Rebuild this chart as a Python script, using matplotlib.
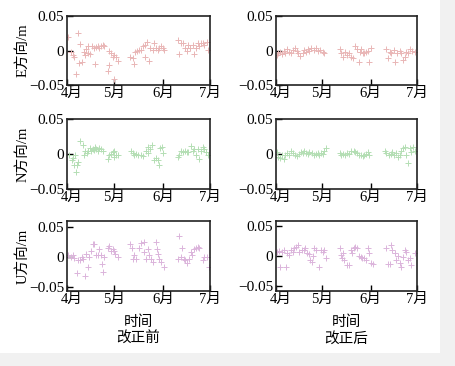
import matplotlib
matplotlib.use("Agg")
import matplotlib.pyplot as plt
from matplotlib.patches import Rectangle
import matplotlib.transforms as mtransforms

plt.rcParams['font.family'] = ['Liberation Serif', 'Noto Sans CJK SC']
plt.rcParams['axes.unicode_minus'] = True

# days since 1 April
month_ticks = [0, 30, 61, 91]
month_labels = ["4月", "5月", "6月", "7月"]
y_ticks = [-0.05, 0, 0.05]
y_labels = ["\u22120.05", "0", "0.05"]
row_labels = ["E方向/m", "N方向/m", "U方向/m"]
col_titles = ["时间\n改正前", "时间\n改正后"]

# ---- E before
e_before_day = [0.8, 6.8, 2.5, 3.6, 4.2, 8.5, 7.8, 5.7, 9.3, 10.6, 11.5, 12.1, 13.2, 13.6, 14.8, 15.7, 17.0,
                17.8, 18.7, 19.5, 20.6, 21.6, 22.7, 23.8, 27.0, 28.0, 29.0, 30.1, 31.2, 32.2, 27.0, 25.9, 30.0,
                40.3, 41.8, 42.4, 43.3, 44.5, 46.0, 47.1, 48.6, 49.7, 50.7, 49.8, 52.4, 53.0, 54.5, 55.6, 56.6,
                57.7, 58.7, 59.8, 60.9, 62.0, 70.4, 71.5, 72.5, 73.6, 75.1, 76.1, 77.2, 78.5, 80.0, 81.0, 82.0,
                83.1, 84.2, 85.3, 86.4, 87.4, 89.1, 90.0]
e_before_val = [0.020, 0.026, -0.0015, -0.006, -0.009, 0.0096, -0.018, -0.034, -0.016, -0.0015, -0.006, 0.0024,
                0.006, -0.003, -0.005, 0.0067, 0.0034, -0.019, 0.005, 0.0067, 0.0043, 0.006, 0.008, 0.0067,
                -0.0005, -0.004, -0.009, -0.006, -0.009, -0.015, -0.021, -0.029, -0.041, -0.009, -0.011, -0.020,
                -0.0024, -0.0005, 0.001, 0.001, 0.006, 0.008, 0.013, -0.009, -0.015, 0.0034, 0.001, 0.0115,
                0.0034, 0.001, 0.0034, 0.0067, 0.0034, 0.001, 0.0154, -0.005, 0.0115, 0.0106, 0.0043, -0.0005,
                0.008, 0.0034, 0.008, -0.005, 0.0034, 0.0106, 0.0067, 0.0106, 0.0115, 0.008, 0.013, 0.001]

# ---- E after
e_after_day = [0.6, 1.5, 2.8, 3.7, 5.0, 5.8, 7.1, 8.6, 9.7, 10.8, 12.3, 13.6, 14.4, 15.7, 17.3, 18.3, 19.4, 20.5,
               21.6, 22.6, 24.4, 25.9, 27.0, 28.7, 30.2, 31.3, 41.0, 42.0, 43.1, 44.6, 45.9, 47.4, 48.5, 49.6,
               51.1, 52.4, 53.3, 53.9, 55.0, 56.1, 57.1, 58.2, 59.3, 59.7, 61.0, 71.2, 72.3, 73.3, 74.4, 76.1,
               77.0, 78.3, 79.8, 80.9, 81.9, 83.0, 84.1, 85.2, 86.3, 87.8, 89.9]
e_after_val = [-0.0065, -0.003, -0.0015, -0.005, 0.0, -0.003, 0.002, -0.0015, -0.004, 0.001, 0.003, 0.0, -0.003,
               -0.008, -0.003, 0.001, -0.0015, 0.002, 0.0, 0.003, 0.001, 0.0035, -0.0005, 0.001, -0.0015, -0.003,
               0.002, -0.003, -0.009, -0.0015, -0.0065, -0.003, -0.009, -0.0115, 0.006, 0.002, -0.0165, -0.0015,
               0.002, -0.003, -0.004, -0.0015, -0.0005, -0.0165, 0.0035, 0.002, -0.0105, -0.0015, -0.004, 0.001,
               -0.0165, -0.003, 0.0, -0.004, -0.014, -0.009, -0.0015, -0.004, 0.002, 0.0, -0.0015]

# ---- N before
n_before_day = [1.5, 3.0, 3.6, 4.2, 5.0, 6.4, 5.7, 7.2, 8.5, 10.0, 11.0, 11.5, 12.7, 13.6, 14.4, 15.3, 16.3, 17.0,
                17.8, 18.7, 19.5, 20.6, 21.6, 22.7, 25.9, 27.0, 28.0, 29.0, 30.1, 29.7, 31.2, 32.2, 40.7, 41.8,
                42.8, 43.9, 45.4, 47.1, 48.1, 50.2, 51.3, 51.7, 53.0, 53.8, 55.1, 56.6, 57.7, 58.7, 59.3, 60.2,
                60.9, 70.4, 71.5, 72.5, 73.6, 75.1, 76.3, 77.2, 78.9, 80.0, 81.0, 82.0, 83.1, 84.2, 85.3, 86.4,
                87.4, 88.5, 89.6]
n_before_val = [-0.001, -0.009, -0.006, -0.015, -0.002, -0.016, -0.025, -0.0115, 0.018, 0.0125, -0.002, 0.004,
                0.002, 0.005, 0.0087, 0.004, 0.0077, 0.0058, 0.010, 0.0077, 0.004, 0.0087, 0.0067, 0.004, -0.0067,
                -0.002, 0.0005, 0.003, 0.005, -0.004, -0.001, -0.002, 0.005, 0.002, -0.001, 0.0005, -0.002,
                -0.001, -0.003, 0.005, 0.010, 0.002, 0.0077, 0.0125, -0.009, -0.006, -0.009, -0.015, 0.0087,
                0.010, 0.002, -0.004, -0.001, 0.004, 0.003, 0.005, 0.003, 0.003, 0.0115, 0.004, 0.0067, -0.002,
                0.0077, -0.0067, 0.005, 0.010, 0.0077, 0.003, -0.001]

# ---- N after
n_after_day = [0.6, 1.5, 2.8, 3.7, 5.0, 5.8, 7.1, 8.6, 9.7, 10.8, 12.3, 13.6, 15.1, 16.2, 17.3, 18.3, 19.4, 20.5,
               21.6, 23.1, 24.4, 25.9, 27.0, 28.0, 29.1, 30.2, 31.3, 32.4, 41.0, 42.0, 43.1, 44.6, 45.9, 47.4,
               48.5, 50.2, 51.1, 52.4, 53.3, 54.6, 56.1, 57.1, 58.2, 59.3, 60.3, 70.1, 71.2, 72.7, 74.0, 74.8,
               76.1, 77.6, 78.7, 79.8, 80.9, 82.0, 83.0, 84.2, 85.2, 86.3, 87.4, 88.5, 89.6]
n_after_val = [0.003, -0.004, -0.006, -0.001, -0.007, -0.002, 0.002, -0.001, 0.004, 0.002, -0.001, -0.003, 0.0005,
               0.003, 0.002, 0.004, 0.002, 0.0005, 0.003, 0.002, -0.001, 0.0005, 0.002, -0.001, 0.002, 0.0005,
               0.005, 0.008, 0.002, -0.001, 0.0005, -0.002, 0.002, 0.0005, 0.004, 0.005, 0.003, 0.0015, -0.002,
               -0.001, -0.003, -0.002, 0.0005, 0.003, -0.001, 0.004, 0.002, -0.001, 0.0005, 0.003, -0.001, 0.002,
               -0.004, -0.002, 0.005, 0.008, 0.010, -0.001, -0.0125, 0.008, 0.003, 0.010, 0.005]

# ---- U before
u_before_day = [0.4, 2.5, 3.6, 4.7, 6.4, 7.2, 8.5, 9.3, 10.0, 11.5, 12.1, 13.2, 14.2, 15.3, 16.3, 17.4, 18.5, 19.5,
                20.6, 21.6, 22.1, 22.7, 23.8, 25.9, 27.0, 28.0, 29.0, 30.1, 30.5, 32.2, 40.3, 41.2, 41.8, 42.8,
                43.9, 46.0, 47.1, 48.8, 49.2, 50.3, 51.3, 52.4, 53.4, 54.5, 56.6, 57.2, 58.1, 58.7, 59.8, 61.5,
                71.5, 73.0, 70.4, 72.5, 74.2, 75.0, 76.3, 77.8, 78.8, 79.8, 81.0, 82.0, 83.1, 84.2, 86.4, 87.4,
                89.1, 90.6]
u_before_val = [0.003, 0.0, 0.004, -0.001, -0.026, -0.004, -0.005, 0.001, -0.003, -0.031, 0.005, -0.016, 0.0,
                0.011, 0.0215, 0.0226, 0.004, 0.004, 0.013, 0.004, -0.011, -0.024, 0.0, 0.016, 0.019, 0.011,
                0.013, 0.011, 0.005, 0.0, 0.0226, 0.016, -0.003, 0.003, -0.003, 0.016, 0.024, 0.026, 0.008,
                -0.003, 0.013, 0.004, -0.003, -0.008, 0.026, 0.013, 0.005, -0.003, -0.008, -0.017, 0.035, 0.016,
                -0.003, 0.0, -0.003, -0.005, -0.010, -0.003, 0.008, 0.003, 0.013, 0.016, 0.017, 0.016, -0.005,
                0.001, 0.0, -0.017]

# ---- U after
u_after_day = [0.6, 2.8, 2.2, 3.7, 5.4, 6.5, 7.1, 8.6, 9.7, 10.8, 11.9, 13.0, 14.0, 15.1, 16.6, 17.9, 18.8, 20.0,
               21.6, 22.2, 23.1, 23.7, 24.8, 25.9, 28.0, 29.1, 30.2, 31.3, 32.4, 41.0, 42.0, 42.5, 43.1, 44.2,
               45.9, 46.8, 48.1, 48.9, 50.2, 51.1, 52.4, 53.3, 54.6, 55.5, 56.8, 58.2, 59.3, 60.3, 61.0, 62.5,
               71.2, 72.3, 73.3, 74.0, 74.8, 76.6, 77.6, 78.7, 79.8, 80.9, 81.9, 83.0, 84.2, 85.2, 86.3, 87.4,
               89.9]
u_after_val = [0.007, -0.019, 0.009, 0.007, 0.010, -0.018, 0.0055, 0.0017, 0.010, 0.007, 0.013, 0.0155, 0.018,
               0.007, 0.010, 0.010, 0.013, 0.0055, 0.003, -0.0067, -0.0094, 0.0, 0.013, 0.010, -0.018, 0.010,
               0.007, 0.010, -0.004, 0.013, 0.0017, -0.004, 0.0055, -0.0067, -0.015, -0.015, 0.010, 0.0055,
               0.014, 0.0155, 0.013, 0.0, -0.001, -0.004, -0.004, -0.0067, 0.013, 0.0045, -0.011, -0.013, 0.013,
               -0.013, -0.013, 0.018, 0.010, 0.0045, -0.0067, 0.0, -0.012, -0.018, -0.001, 0.010, 0.007, -0.0067,
               -0.004, -0.015, 0.0055]

panels = [
    [(e_before_day, e_before_val), (e_after_day, e_after_val)],
    [(n_before_day, n_before_val), (n_after_day, n_after_val)],
    [(u_before_day, u_before_val), (u_after_day, u_after_val)],
]
row_colors = ["#e9b6b6", "#b4deb4", "#dbb4db"]

W, H = 455, 366
fig = plt.figure(figsize=(W / 100, H / 100), dpi=100)
fig.patch.set_facecolor("#f1f1f1")
fig.add_artist(Rectangle((0, 1 - 353 / H), 440 / W, 353 / H, transform=fig.transFigure,
                         facecolor="white", edgecolor="none", zorder=-10))

col_x = [(67, 210), (276, 417)]
row_y = [(16, 85), (119, 189), (221, 291)]
ylims = [[(-0.05, 0.05), (-0.05, 0.05)],
         [(-0.05, 0.05), (-0.05, 0.05)],
         [(-0.056, 0.06), (-0.058, 0.058)]]

for r in range(3):
    for c in range(2):
        x0, x1 = col_x[c]
        yt, yb = row_y[r]
        ax = fig.add_axes([x0 / W, 1 - yb / H, (x1 - x0) / W, (yb - yt) / H])
        ax.set_facecolor("white")
        d, v = panels[r][c]
        ms = 5 if c == 0 else 4.2
        ax.plot(d, v, linestyle="none", marker="+", markersize=ms, markeredgewidth=0.7,
                color=row_colors[r])
        ax.set_xlim(0, 91)
        ax.set_ylim(*ylims[r][c])
        ax.set_xticks(month_ticks)
        ax.set_xticklabels(month_labels, fontsize=10.5)
        ax.set_yticks(y_ticks)
        ax.set_yticklabels(y_labels, fontsize=11)
        ax.tick_params(direction="in", length=4, width=1, pad=2, colors="black")
        ax.tick_params(axis="x", pad=1)
        # first month label sits slightly right of its tick, as in the reference
        lbls = ax.get_xticklabels()
        off = mtransforms.ScaledTranslation(5 / 100, 0, fig.dpi_scale_trans)
        lbls[0].set_transform(lbls[0].get_transform() + off)
        for s in ax.spines.values():
            s.set_linewidth(1.2)
            s.set_color("#222222")
        if c == 0:
            ax.set_ylabel(row_labels[r], fontsize=10.5)
            ax.yaxis.set_label_coords(-0.265, 0.5)
        if r == 2:
            ax.set_xlabel(col_titles[c], fontsize=10.5, linespacing=1.3, labelpad=7)

fig.savefig("out.png", dpi=100, facecolor=fig.get_facecolor())
